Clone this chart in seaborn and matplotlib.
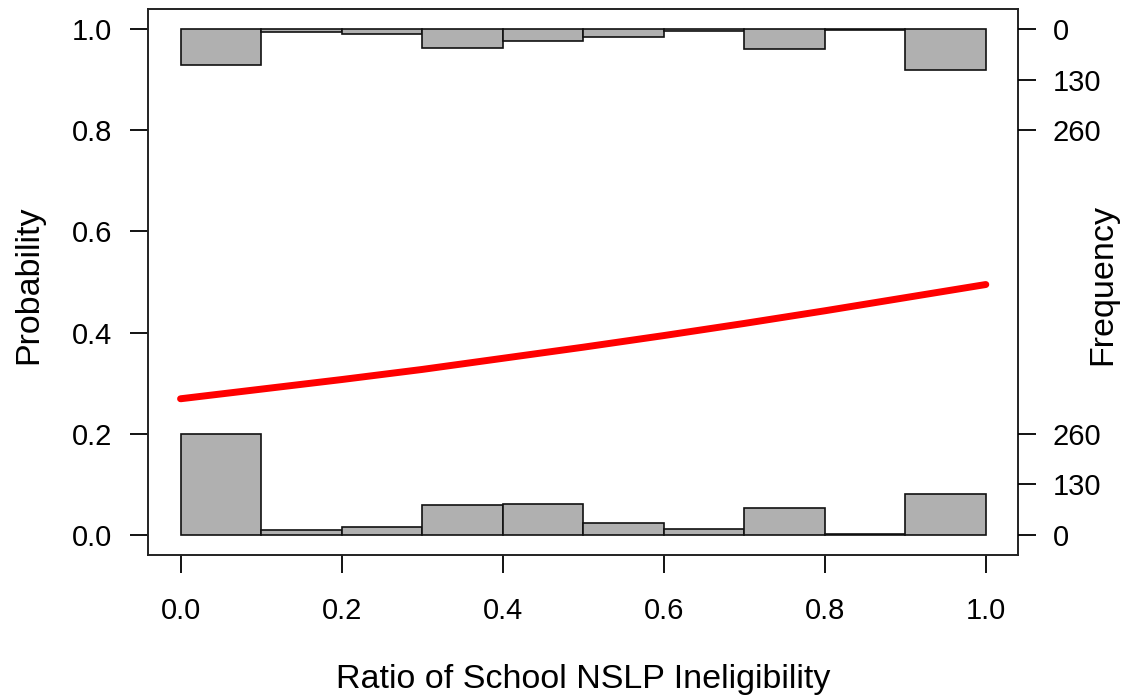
import matplotlib
matplotlib.use("Agg")
import matplotlib.pyplot as plt
import seaborn as sns
import pandas as pd
import numpy as np

# histogram bins of the predictor (left edges), width 0.1
bin_left = [0.0, 0.1, 0.2, 0.3, 0.4, 0.5, 0.6, 0.7, 0.8, 0.9]
# counts for outcome = 0 (drawn up from the bottom)
count_zero = [260, 11, 21, 77, 78, 29, 16, 69, 1, 105]
# counts for outcome = 1 (drawn down from the top)
count_one = [93, 6, 11, 49, 29, 21, 4, 52, 2, 106]

# fitted probability curve
curve_x = [0.0, 0.1, 0.2, 0.3, 0.4, 0.5, 0.6, 0.7, 0.8, 0.9, 1.0]
curve_p = [0.269, 0.288, 0.307, 0.327, 0.349, 0.371, 0.394, 0.418, 0.443, 0.469, 0.495]

freq_ticks = [0, 130, 260]
freq_per_unit = 1300  # 260 counts span 0.2 on the probability axis

sns.set_style("ticks")
plt.rcParams['font.family'] = ['Liberation Sans', 'DejaVu Sans']

fig = plt.figure(figsize=(11.28, 6.98), dpi=100)
ax = fig.add_axes([0.1315, 0.2049, 0.9025 - 0.1315, 0.9871 - 0.2049])

bar_kw = dict(width=0.1, align='edge', color='#b0b0b0', edgecolor='#111111', linewidth=1.2)
ax.bar(bin_left, np.array(count_zero) / freq_per_unit, bottom=0, **bar_kw)
ax.bar(bin_left, -np.array(count_one) / freq_per_unit, bottom=1, **bar_kw)

curve = pd.DataFrame({'x': curve_x, 'p': curve_p})
sns.lineplot(data=curve, x='x', y='p', ax=ax, color='red', linewidth=5,
             solid_capstyle='round')

ax.set_xlim(-0.04, 1.04)
ax.set_ylim(-0.04, 1.04)
ticks = [0.0, 0.2, 0.4, 0.6, 0.8, 1.0]
ax.set_xticks(ticks)
ax.set_yticks(ticks)
ax.set_xticklabels([f'{t:.1f}' for t in ticks])
ax.set_yticklabels([f'{t:.1f}' for t in ticks])
ax.tick_params(axis='x', direction='out', length=13, width=1.3, pad=17,
               labelsize=21, colors='black', labelcolor='black')
ax.tick_params(axis='y', direction='out', length=13, width=1.3, pad=13,
               labelsize=21, colors='black', labelcolor='black')
ax.set_xlabel('Ratio of School NSLP Ineligibility', fontsize=24.5, color='black')
ax.set_ylabel('Probability', fontsize=24.5, color='black')
ax.xaxis.label.set_va('center')
ax.yaxis.label.set_va('center')
ax.xaxis.set_label_coords(0.5, -0.228)
ax.yaxis.set_label_coords(-0.137, 0.495)
for sp in ax.spines.values():
    sp.set_visible(True)
    sp.set_linewidth(1.4)
    sp.set_color('#222222')

ax2 = ax.twinx()
ax2.set_ylim(ax.get_ylim())
pos = [f / freq_per_unit for f in freq_ticks] + [1 - f / freq_per_unit for f in freq_ticks]
labs = [str(f) for f in freq_ticks] + [str(f) for f in freq_ticks]
ax2.set_yticks(pos)
ax2.set_yticklabels(labs)
ax2.tick_params(axis='y', direction='out', length=13, width=1.3, pad=12,
                labelsize=21, colors='black', labelcolor='black')
ax2.set_ylabel('Frequency', fontsize=24.5, color='black')
ax2.yaxis.label.set_va('center')
ax2.yaxis.set_label_coords(1.098, 0.495)
for sp in ax2.spines.values():
    sp.set_visible(False)

fig.savefig('out.png', dpi=100)
